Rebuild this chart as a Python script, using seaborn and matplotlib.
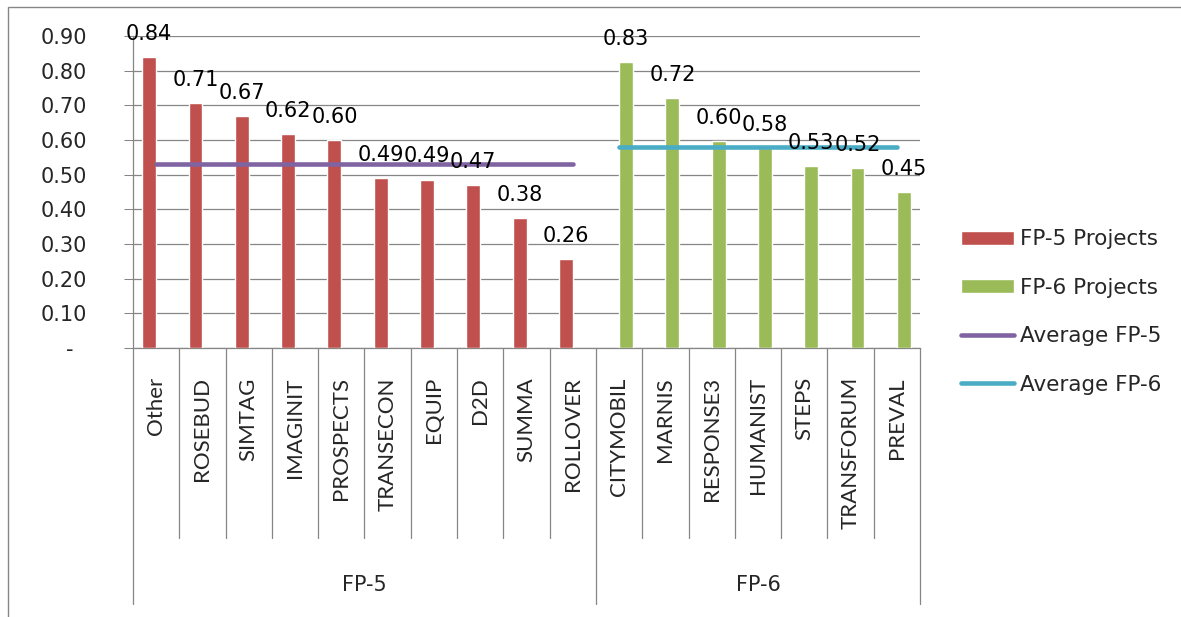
import numpy as np
import pandas as pd
import matplotlib
matplotlib.use("Agg")
import matplotlib.pyplot as plt
import matplotlib.transforms as mtransforms
from matplotlib.patches import Rectangle
import seaborn as sns

# ---------------- data ----------------
categories_fp5 = ["Other", "ROSEBUD", "SIMTAG", "IMAGINIT", "PROSPECTS",
                  "TRANSECON", "EQUIP", "D2D", "SUMMA", "ROLLOVER"]
values_fp5 = [0.84, 0.706, 0.67, 0.616, 0.60, 0.49, 0.486, 0.47, 0.376, 0.256]
categories_fp6 = ["CITYMOBIL", "MARNIS", "RESPONSE3", "HUMANIST", "STEPS",
                  "TRANSFORUM", "PREVAL"]
values_fp6 = [0.826, 0.72, 0.596, 0.576, 0.526, 0.52, 0.45]
avg_fp5 = 0.53
avg_fp6 = 0.58
groups = ["FP-5", "FP-6"]
series_names = ["FP-5 Projects", "FP-6 Projects", "Average FP-5", "Average FP-6"]
ytick_values = [0.0, 0.1, 0.2, 0.3, 0.4, 0.5, 0.6, 0.7, 0.8, 0.9]
ytick_labels = ["-  ", "0.10", "0.20", "0.30", "0.40", "0.50", "0.60", "0.70", "0.80", "0.90"]

# ---------------- style ----------------
sns.set_style("white")
plt.rcParams["font.family"] = ["DejaVu Sans"]
GRID = "#868686"
C5, C6, A5, A6 = "#C0504D", "#9BBB59", "#8064A2", "#4BACC6"

all_cats = categories_fp5 + categories_fp6
df = pd.DataFrame({
    "category": all_cats,
    "value": values_fp5 + values_fp6,
    "series": [series_names[0]] * len(categories_fp5) + [series_names[1]] * len(categories_fp6),
})

W, H = 1181, 617
fig = plt.figure(figsize=(W / 100, H / 100), dpi=100)
ax = fig.add_axes([133 / W, 1 - 348 / H, (920 - 133) / W, (348 - 36) / H])

sns.barplot(data=df, x="category", y="value", hue="series", order=all_cats,
            hue_order=series_names[:2], palette=[C5, C6], width=0.6,
            dodge=True, saturation=1, errorbar=None, legend=False, ax=ax, zorder=3)

for cont in ax.containers:
    ax.bar_label(cont, fmt="%.2f", padding=9.4, fontsize=15, color="black", zorder=5)

x5 = [all_cats.index(c) for c in categories_fp5]
x6 = [all_cats.index(c) for c in categories_fp6]
sns.lineplot(x=x5, y=[avg_fp5] * len(x5), color=A5, lw=3.3, ax=ax, zorder=4,
             solid_capstyle="round")
line5 = ax.lines[-1]
sns.lineplot(x=x6, y=[avg_fp6] * len(x6), color=A6, lw=3.3, ax=ax, zorder=4,
             solid_capstyle="round")
line6 = ax.lines[-1]

ax.set_xlim(-0.5, len(all_cats) - 0.5)
ax.set_ylim(0, 0.9)
ax.set_xlabel("")
ax.set_ylabel("")

# y axis
ax.set_yticks(ytick_values)
ax.set_yticklabels(ytick_labels)
ax.tick_params(axis="y", direction="out", length=6.5, width=0.75, color=GRID,
               pad=26.6, labelsize=15, left=True)
ax.yaxis.grid(True, color=GRID, lw=0.9, zorder=0)
ax.set_axisbelow(True)

# x axis
ax.set_xticks(range(len(all_cats)))
ax.set_xticklabels(all_cats, rotation=90, fontfamily="Lato", fontsize=16,
                   va="top", ha="center")
ax.tick_params(axis="x", length=0, pad=21)

for s in ["top", "right"]:
    ax.spines[s].set_visible(False)
for s in ["left", "bottom"]:
    ax.spines[s].set_color(GRID)
    ax.spines[s].set_linewidth(0.9)

# category separators and group separators below axis
trans = mtransforms.blended_transform_factory(ax.transData, ax.transAxes)
n5 = len(categories_fp5)
for i in range(1, len(all_cats)):
    b = i - 0.5
    low = -0.82 if i == n5 else -0.609
    ax.plot([b, b], [0, low], transform=trans, color=GRID, lw=0.9, clip_on=False)
for b in [-0.5, len(all_cats) - 0.5]:
    ax.plot([b, b], [0, -0.82], transform=trans, color=GRID, lw=0.9, clip_on=False)

ax.text((n5 - 1) / 2, -0.76, groups[0], transform=trans, ha="center", va="center", fontsize=15)
ax.text(n5 + (len(categories_fp6) - 1) / 2, -0.76, groups[1], transform=trans,
        ha="center", va="center", fontsize=15)

# legend
handles = [ax.containers[0], ax.containers[1], line5, line6]
leg = fig.legend(handles, series_names, loc="center left",
                 bbox_to_anchor=(961 / W, 1 - 312 / H), frameon=False,
                 fontsize=15.5, handlelength=2.45, handletextpad=0.3,
                 labelspacing=1.32, borderpad=0, borderaxespad=0, handleheight=0.62)

# outer chart border
fig.patches.append(Rectangle((8 / W, -0.1), 1.2, 1.1 - 7 / H, transform=fig.transFigure,
                             fill=False, edgecolor=GRID, lw=1.0))

fig.savefig("out.png", dpi=100)
